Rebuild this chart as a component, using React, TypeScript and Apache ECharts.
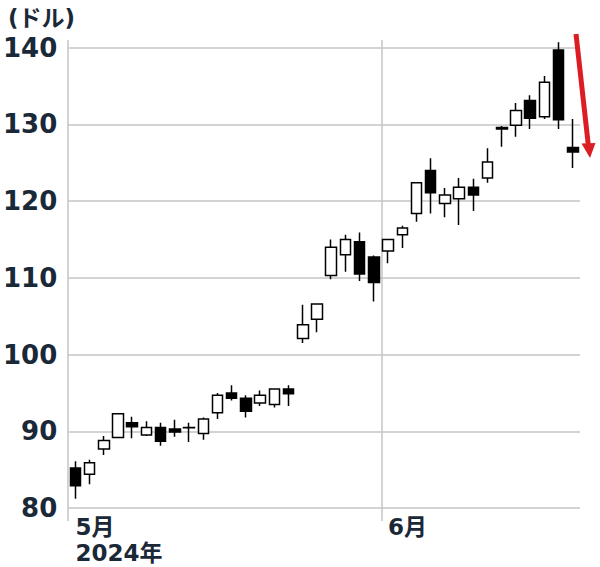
import React, { useEffect, useRef } from "react";
import * as echarts from "echarts";

const dates = [
  "5/1", "5/2", "5/3", "5/6", "5/7", "5/8", "5/9", "5/10", "5/13", "5/14", "5/15",
  "5/16", "5/17", "5/20", "5/21", "5/22", "5/23", "5/24", "5/28", "5/29", "5/30", "5/31",
  "6/3", "6/4", "6/5", "6/6", "6/7", "6/10", "6/11", "6/12", "6/13", "6/14", "6/17",
  "6/18", "6/20", "6/21",
];
const opens = [
  85.2, 84.4, 87.7, 89.2, 91.1, 89.5, 90.5, 90.3, 90.45, 89.7, 92.4,
  95.0, 94.3, 93.7, 93.5, 95.5, 102.1, 104.6, 110.3, 113.0, 114.7, 112.7,
  113.5, 115.6, 118.4, 124.0, 119.7, 120.3, 121.8, 123.0, 129.4, 129.9, 133.1,
  131.0, 139.7, 127.0,
];
const closes = [
  82.9, 85.9, 88.8, 92.3, 90.6, 90.5, 88.7, 89.9, 90.5, 91.6, 94.7,
  94.3, 92.6, 94.7, 95.5, 94.9, 103.9, 106.6, 114.0, 115.0, 110.5, 109.4,
  115.0, 116.5, 122.4, 121.1, 120.8, 121.8, 120.8, 125.1, 129.6, 131.8, 130.8,
  135.5, 130.6, 126.4,
];
const lows = [
  81.2, 83.1, 86.9, 89.1, 89.1, 89.4, 88.1, 89.3, 88.6, 88.9, 91.6,
  94.0, 91.8, 93.3, 93.1, 93.3, 101.5, 102.9, 109.8, 110.8, 109.6, 106.9,
  111.9, 113.9, 117.3, 118.4, 117.9, 116.9, 118.7, 122.4, 127.1, 128.4, 129.4,
  130.7, 129.4, 124.3,
];
const highs = [
  86.1, 86.3, 89.4, 92.3, 91.9, 91.3, 91.1, 91.5, 91.1, 91.8, 95.0,
  96.0, 94.7, 95.3, 95.6, 96.0, 106.5, 106.6, 115.0, 115.6, 115.9, 112.9,
  115.0, 116.8, 122.5, 125.6, 121.7, 123.0, 122.9, 126.9, 129.8, 132.8, 133.8,
  136.3, 140.7, 130.7,
];
const monthTickIndex = [0, 22];
const monthTickText = ["5月\n2024年", "6月"];
const yTicks = [80, 90, 100, 110, 120, 130, 140];

const NAVY = "#1a2837";
const GRID = "#c4c4c4";

export default function App() {
  const ref = useRef<HTMLDivElement>(null);
  useEffect(() => {
    if (!ref.current) return;
    const chart = echarts.init(ref.current, null, { renderer: "svg" });
    const candles = dates.map((_, i) => [opens[i], closes[i], lows[i], highs[i]]);
    const isMonth = (i: number) => monthTickIndex.indexOf(i) >= 0;
    const n = dates.length;
    chart.setOption({
      animation: false,
      backgroundColor: "#ffffff",
      title: {
        text: "(ドル)",
        left: 3,
        top: 1,
        textStyle: {
          fontSize: 23,
          fontWeight: "bold",
          color: NAVY,
          fontFamily: "DejaVu Sans, Noto Sans CJK JP",
        },
      },
      grid: [
        { left: 66, right: 20, top: 40, bottom: 59, containLabel: false },
        { left: 68, right: 18, top: 40, bottom: 46, containLabel: false },
      ],
      xAxis: [
        {
          type: "category",
          gridIndex: 0,
          data: dates,
          boundaryGap: true,
          axisLine: { show: false },
          axisTick: { show: false },
          splitLine: { show: false },
          axisLabel: {
            interval: (i: number) => isMonth(i),
            formatter: (_v: string, i: number) => {
              const k = monthTickIndex.indexOf(i);
              return k >= 0 ? monthTickText[k] : "";
            },
            align: "left",
            margin: 6,
            fontSize: 23,
            lineHeight: 26,
            fontWeight: "bold",
            color: NAVY,
            fontFamily: "DejaVu Sans, Noto Sans CJK JP",
          },
        },
        {
          type: "value",
          gridIndex: 1,
          min: -0.5,
          max: n - 0.5,
          interval: monthTickIndex[1],
          axisLine: { show: false },
          axisTick: { show: false },
          axisLabel: { show: false },
          splitLine: {
            show: true,
            showMinLine: true,
            showMaxLine: false,
            lineStyle: { color: GRID, width: 1.5 },
          },
        },
      ],
      yAxis: [
        {
          type: "value",
          gridIndex: 0,
          min: 80,
          max: 141,
          interval: 10,
          axisLine: { show: false },
          axisTick: { show: false },
          splitLine: {
            show: true,
            showMaxLine: false,
            lineStyle: { color: GRID, width: 1.5 },
          },
          axisLabel: {
            formatter: (v: number) => (yTicks.indexOf(v) >= 0 ? String(v) : ""),
            showMaxLabel: false,
            margin: 11,
            fontSize: 26,
            fontWeight: "bold",
            color: NAVY,
            fontFamily: "DejaVu Sans",
          },
        },
        {
          type: "value",
          gridIndex: 1,
          min: 0,
          max: 1,
          show: false,
        },
      ],
      series: [
        {
          type: "candlestick",
          xAxisIndex: 0,
          yAxisIndex: 0,
          data: candles,
          barWidth: 11,
          z: 5,
          itemStyle: {
            color: "#ffffff",
            color0: "#000000",
            borderColor: "#000000",
            borderColor0: "#000000",
            borderWidth: 1.5,
          },
        },
      ],
      graphic: [
        {
          type: "line",
          shape: { x1: 576, y1: 34, x2: 588.3, y2: 145 },
          style: { stroke: "#dc1e24", lineWidth: 5 },
          z: 100,
        },
        {
          type: "polygon",
          shape: { points: [[581.5, 143.5], [595.5, 143], [590, 158]] },
          style: { fill: "#dc1e24" },
          z: 100,
        },
      ],
    });
    return () => chart.dispose();
  }, []);
  return (
    <div
      ref={ref}
      style={{ position: "absolute", left: 0, top: 0, width: 600, height: 567, background: "#fff" }}
    />
  );
}
